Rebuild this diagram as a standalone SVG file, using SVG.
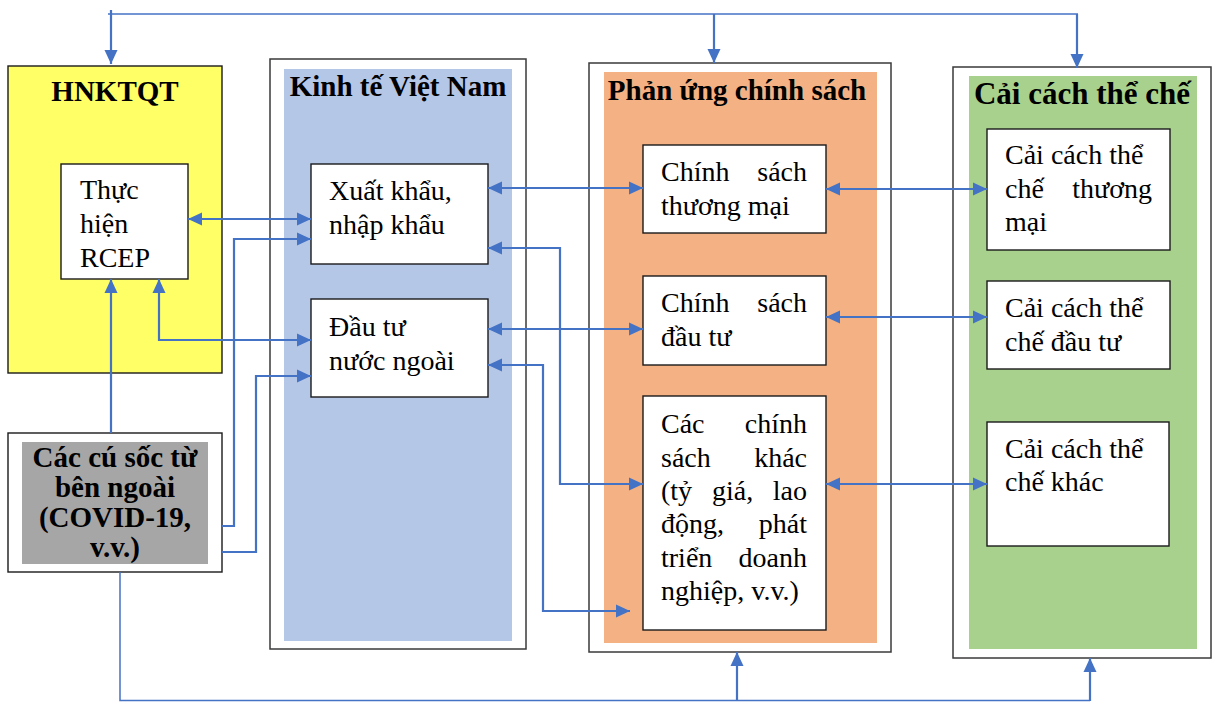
<svg xmlns="http://www.w3.org/2000/svg" width="1217" height="702" viewBox="0 0 1217 702">
  <defs>
    <marker id="arrow" markerUnits="userSpaceOnUse" markerWidth="15" markerHeight="14" refX="14" refY="7" orient="auto-start-reverse">
      <path d="M0,0.5 L14,7 L0,13.5 Z" fill="#4472C4"/>
    </marker>
    <style>
      .outer { fill: #FFFFFF; stroke: #3A3A3A; stroke-width: 1.5; }
      .box { fill: #FFFFFF; stroke: #1A1A1A; stroke-width: 1.4; }
      .title { font-family: "Liberation Serif", "Times New Roman", serif; font-weight: bold; font-size: 29px; fill: #000; }
      .body { font-family: "Liberation Serif", "Times New Roman", serif; font-size: 28px; fill: #000; }
      .link { fill: none; stroke: #4472C4; stroke-width: 2.2; }
      .thin { fill: none; stroke: #4472C4; stroke-width: 1.5; }
      .end { marker-end: url(#arrow); }
      .both { marker-start: url(#arrow); marker-end: url(#arrow); }
    </style>
  </defs>

  <rect width="1217" height="702" fill="#FFFFFF"/>

  <!-- International economic integration -->
  <g id="hnktqt">
    <rect x="8" y="66" width="214" height="307" fill="#FFFF66" stroke="#1A1A1A" stroke-width="1.4"/>
    <text class="title" x="115" y="101" text-anchor="middle">HNKTQT</text>
  </g>
  <g id="rcep">
    <rect class="box" x="61" y="164" width="127" height="115"/>
    <text class="body" x="80" y="199">Thực</text>
    <text class="body" x="80" y="233">hiện</text>
    <text class="body" x="80" y="267">RCEP</text>
  </g>

  <!-- External shocks -->
  <g id="shocks">
    <rect class="box" x="8" y="433" width="214" height="139"/>
    <rect x="22" y="442" width="186" height="122" fill="#A6A6A6"/>
    <text class="title" x="115" y="467" text-anchor="middle">Các cú sốc từ</text>
    <text class="title" x="115" y="497" text-anchor="middle">bên ngoài</text>
    <text class="title" x="115" y="527" text-anchor="middle">(COVID-19,</text>
    <text class="title" x="115" y="557" text-anchor="middle">v.v.)</text>
  </g>

  <!-- Vietnamese economy -->
  <g id="economy">
    <rect class="outer" x="270" y="59" width="256" height="590"/>
    <rect x="284" y="69" width="228" height="572" fill="#B4C7E7"/>
    <text class="title" x="398" y="96" text-anchor="middle">Kinh tế Việt Nam</text>
  </g>
  <g id="trade">
    <rect class="box" x="311" y="164" width="177" height="100"/>
    <text class="body" x="329" y="200">Xuất khẩu,</text>
    <text class="body" x="329" y="234">nhập khẩu</text>
  </g>
  <g id="fdi">
    <rect class="box" x="311" y="299" width="177" height="98"/>
    <text class="body" x="329" y="336">Đầu tư</text>
    <text class="body" x="329" y="370">nước ngoài</text>
  </g>

  <!-- Policy response -->
  <g id="policy">
    <rect class="outer" x="589" y="63" width="302" height="589"/>
    <rect x="604" y="72" width="273" height="571" fill="#F4B183"/>
    <text class="title" x="737" y="100" text-anchor="middle">Phản ứng chính sách</text>
  </g>
  <g id="trade-policy">
    <rect class="box" x="643" y="145" width="183" height="88"/>
    <text class="body" x="661" y="181">Chính</text>
    <text class="body" x="807" y="181" text-anchor="end">sách</text>
    <text class="body" x="661" y="215">thương mại</text>
  </g>
  <g id="investment-policy">
    <rect class="box" x="643" y="276" width="183" height="89"/>
    <text class="body" x="661" y="312">Chính</text>
    <text class="body" x="807" y="312" text-anchor="end">sách</text>
    <text class="body" x="661" y="346">đầu tư</text>
  </g>
  <g id="other-policy">
    <rect class="box" x="643" y="396" width="183" height="234"/>
    <text class="body" x="661" y="433">Các</text>
    <text class="body" x="807" y="433" text-anchor="end">chính</text>
    <text class="body" x="661" y="467">sách</text>
    <text class="body" x="807" y="467" text-anchor="end">khác</text>
    <text class="body" x="661" y="500">(tỷ</text>
    <text class="body" x="712" y="500">giá,</text>
    <text class="body" x="807" y="500" text-anchor="end">lao</text>
    <text class="body" x="661" y="533">động,</text>
    <text class="body" x="807" y="533" text-anchor="end">phát</text>
    <text class="body" x="661" y="567">triển</text>
    <text class="body" x="807" y="567" text-anchor="end">doanh</text>
    <text class="body" x="661" y="600">nghiệp, v.v.)</text>
  </g>

  <!-- Institutional reform -->
  <g id="reform">
    <rect class="outer" x="953" y="67" width="258" height="591"/>
    <rect x="969" y="76" width="228" height="573" fill="#A9D18E"/>
    <text class="title" x="1082" y="104" text-anchor="middle" style="font-size:31px">Cải cách thể chế</text>
  </g>
  <g id="trade-reform">
    <rect class="box" x="987" y="129" width="183" height="121"/>
    <text class="body" x="1005" y="164">Cải cách thể</text>
    <text class="body" x="1005" y="198">chế</text>
    <text class="body" x="1152" y="198" text-anchor="end">thương</text>
    <text class="body" x="1005" y="231">mại</text>
  </g>
  <g id="investment-reform">
    <rect class="box" x="987" y="281" width="183" height="88"/>
    <text class="body" x="1005" y="317">Cải cách thể</text>
    <text class="body" x="1005" y="351">chế đầu tư</text>
  </g>
  <g id="other-reform">
    <rect class="box" x="987" y="422" width="182" height="124"/>
    <text class="body" x="1005" y="458">Cải cách thể</text>
    <text class="body" x="1005" y="491">chế khác</text>
  </g>

  <!-- Connectors -->
  <g id="connectors">
    <path class="thin" d="M108,14 H1078"/>
    <path class="link end" d="M111,10 V64"/>
    <path class="link end" d="M714,14 V63"/>
    <path class="link end" d="M1077,14 V68"/>

    <path class="link both" d="M188,219 H311"/>
    <path class="link end" d="M222,526 H234 V239 H311"/>
    <path class="link end" d="M222,552 H256 V376 H311"/>
    <path class="link both" d="M159,279 V340 H311"/>
    <path class="link end" d="M111,433 V279"/>

    <path class="link both" d="M488,188 H643"/>
    <path class="link both" d="M488,248 H560 V484 H643"/>
    <path class="link both" d="M488,329 H643"/>
    <path class="link both" d="M488,365 H543 V611 H630"/>

    <path class="link both" d="M826,189 H987"/>
    <path class="link both" d="M826,317 H987"/>
    <path class="link both" d="M826,484 H987"/>

    <path class="thin" d="M120,572 V700.5 H1090"/>
    <path class="link end" d="M737,701 V652"/>
    <path class="link end" d="M1090,701 V658"/>
  </g>
</svg>
